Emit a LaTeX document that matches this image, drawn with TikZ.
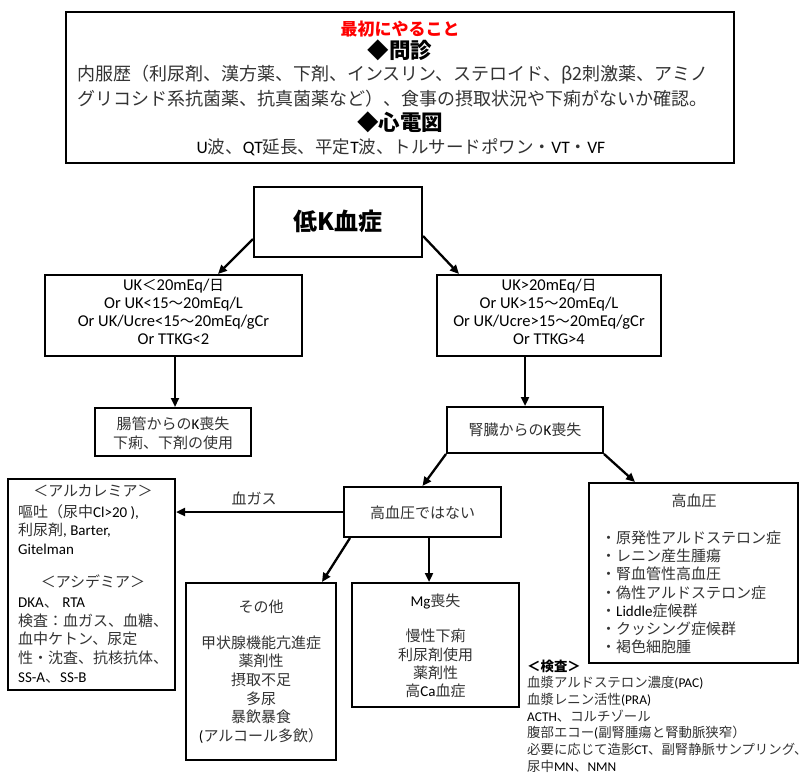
\documentclass[tikz,border=0pt]{standalone}
\usepackage{fontspec}
\setmainfont{Noto Sans CJK JP}
\newfontfamily\latfont{Carlito}
\usetikzlibrary{arrows.meta}
\definecolor{jpgray}{HTML}{333333}
\definecolor{alertred}{HTML}{FF0000}
\newcommand\la[1]{{\latfont\color{black}#1}}
\tikzset{
  box/.style={draw=black, line width=2pt, inner sep=0pt},
  arr/.style={-{Triangle[length=9pt,width=8pt]}, line width=2.3pt},
  txt/.style={inner sep=0pt, text=jpgray},
  f15/.style={font=\fontsize{15}{18.6}\selectfont},
}
\begin{document}
\begin{tikzpicture}[x=1pt,y=-1pt]
\useasboundingbox (0,0) rectangle (807,782);
% ---------- boxes ----------
\node[box, minimum width=668pt, minimum height=151pt] (top) at (400,87.5) {};
\node[box, minimum width=168pt, minimum height=70pt] (lowk) at (338,222) {};
\node[box, minimum width=257pt, minimum height=81pt] (ukl) at (173.5,315.5) {};
\node[box, minimum width=224pt, minimum height=81pt] (ukr) at (549,315.5) {};
\node[box, minimum width=156pt, minimum height=48pt] (gut) at (173,432) {};
\node[box, minimum width=156pt, minimum height=46pt] (kid) at (525,430) {};
\node[box, minimum width=157pt, minimum height=50pt] (nothtn) at (422.5,512) {};
\node[box, minimum width=167pt, minimum height=211pt] (alk) at (91.5,584.5) {};
\node[box, minimum width=209pt, minimum height=180pt] (htn) at (693.5,573) {};
\node[box, minimum width=150pt, minimum height=177pt] (sonota) at (261,671.5) {};
\node[box, minimum width=167pt, minimum height=124pt] (mg) at (435.5,645) {};
% ---------- top box text ----------
\node[inner sep=0pt, text=alertred, font=\fontsize{17}{20}\selectfont\bfseries] (t0) at (400,29) {最初にやること};
\node[inner sep=0pt, font=\fontsize{21.5}{24}\selectfont\bfseries] (t1) at (400,50) {◆問診};
\node[txt, anchor=west, font=\fontsize{18}{22}\selectfont] (t2) at (77,75) {内服歴（利尿剤、漢方薬、下剤、インスリン、ステロイド、β2刺激薬、アミノ};
\node[txt, anchor=west, font=\fontsize{18}{22}\selectfont] (t3) at (77,99) {グリコシド系抗菌薬、抗真菌薬など）、食事の摂取状況や下痢がないか確認。};
\node[inner sep=0pt, font=\fontsize{21.5}{24}\selectfont\bfseries] (t4) at (400,122) {◆心電図};
\node[txt, font=\fontsize{17.5}{22}\selectfont] (t5) at (401,147) {\la{U}波、\la{QT}延長、平定\la{T}波、トルサードポワン・\la{VT}・\la{VF}};
% ---------- main ----------
\node[inner sep=0pt, font=\fontsize{24}{28}\selectfont\bfseries] (lowkt) at (338,221) {低K血症};
\node[inner sep=0pt, align=center, font=\fontsize{16.5}{17.8}\selectfont\latfont] (uklt) at (173.5,312) {UK{\rmfamily\fontsize{14.5}{17.8}\selectfont ＜}20mEq/{\rmfamily\fontsize{14.5}{17.8}\selectfont 日}\\Or UK<15{\rmfamily\fontsize{14.5}{17.8}\selectfont ～}20mEq/L\\Or UK/Ucre<15{\rmfamily\fontsize{14.5}{17.8}\selectfont ～}20mEq/gCr\\Or TTKG<2};
\node[inner sep=0pt, align=center, font=\fontsize{16.5}{17.8}\selectfont\latfont] (ukrt) at (549,312) {UK>20mEq/{\rmfamily\fontsize{14.5}{17.8}\selectfont 日}\\Or UK>15{\rmfamily\fontsize{14.5}{17.8}\selectfont ～}20mEq/L\\Or UK/Ucre>15{\rmfamily\fontsize{14.5}{17.8}\selectfont ～}20mEq/gCr\\Or TTKG>4};
\node[txt, f15, align=center, font=\fontsize{15}{19}\selectfont] (gutt) at (173,433.5) {腸管からの\la{K}喪失\\下痢、下剤の使用};
\node[txt, f15] (kidt) at (525,430) {腎臓からの\la{K}喪失};
\node[txt, f15] (nothtnt) at (422.5,513) {高血圧ではない};
\node[txt, f15] (lblgas) at (254,498) {血ガス};
% ---------- alkalemia / acidemia ----------
\node[txt, f15] (alk1) at (93,491) {＜アルカレミア＞};
\node[txt, f15, align=left, anchor=west, font=\fontsize{15}{18.5}\selectfont] (alk2) at (18,529.5) {嘔吐（尿中\la{Cl>20 ),}\\利尿剤\la{, Barter,}\\\la{Gitelman}};
\node[txt, f15] (alk3) at (93,582) {＜アシデミア＞};
\node[txt, f15, align=left, anchor=west, font=\fontsize{15}{18.75}\selectfont] (alk4) at (18,640.5) {\la{DKA}、 \la{RTA}\\検査：血ガス、血糖、\\血中ケトン、尿定\\性・沈査、抗核抗体、\\\la{SS-A}、\la{SS-B}};
% ---------- hypertension ----------
\node[txt, f15] (htn1) at (694,501) {高血圧};
\node[txt, align=left, anchor=west, font=\fontsize{15}{18.2}\selectfont] (htn2) at (601,592.5) {・原発性アルドステロン症\\・レニン産生腫瘍\\・腎血管性高血圧\\・偽性アルドステロン症\\・\la{Liddle}症候群\\・クッシング症候群\\・褐色細胞腫};
\node[txt, align=left, anchor=west, font=\fontsize{13.4}{16.7}\selectfont] (kensa) at (527,716) {{\bfseries\color{black}＜検査＞}\\血漿アルドステロン濃度\la{(PAC)}\\血漿レニン活性\la{(PRA)}\\\la{ACTH}、コルチゾール\\腹部エコー\la{(}副腎腫瘍と腎動脈狭窄）\\必要に応じて造影\la{CT}、副腎静脈サンプリング、\\尿中\la{MN}、\la{NMN}};
% ---------- others / Mg ----------
\node[txt, f15] (son1) at (261,607) {その他};
\node[txt, align=center, font=\fontsize{15}{18.6}\selectfont] (son2) at (261,689.5) {甲状腺機能亢進症\\薬剤性\\摂取不足\\多尿\\暴飲暴食\\\la{(}アルコール多飲）};
\node[txt, f15] (mg1) at (435.5,601) {\la{Mg}喪失};
\node[txt, align=center, font=\fontsize{15}{18.3}\selectfont] (mg2) at (435.5,663.5) {慢性下痢\\利尿剤使用\\薬剤性\\高\la{Ca}血症};
% ---------- arrows ----------
\draw[arr] ([yshift=19pt]lowk.south west) -- ([xshift=44.5pt]ukl.north);
\draw[arr] ([yshift=22pt]lowk.south east) -- ([xshift=-90pt]ukr.north);
\draw[arr] ([xshift=1.5pt]ukl.south) -- ([xshift=2pt]gut.north);
\draw[arr] ([xshift=-24pt]ukr.south) -- (kid.north);
\draw[arr] (kid.south west) -- (nothtn.north);
\draw[arr] (kid.south east) -- ([xshift=-58.5pt]htn.north);
\draw[arr] (nothtn.west) -- (alk.east |- nothtn.west);
\draw[arr] ([xshift=-72.5pt]nothtn.south) -- ([xshift=61pt]sonota.north);
\draw[arr] ([xshift=6.5pt]nothtn.south) -- ([xshift=-6.5pt]mg.north);
\end{tikzpicture}
\end{document}
